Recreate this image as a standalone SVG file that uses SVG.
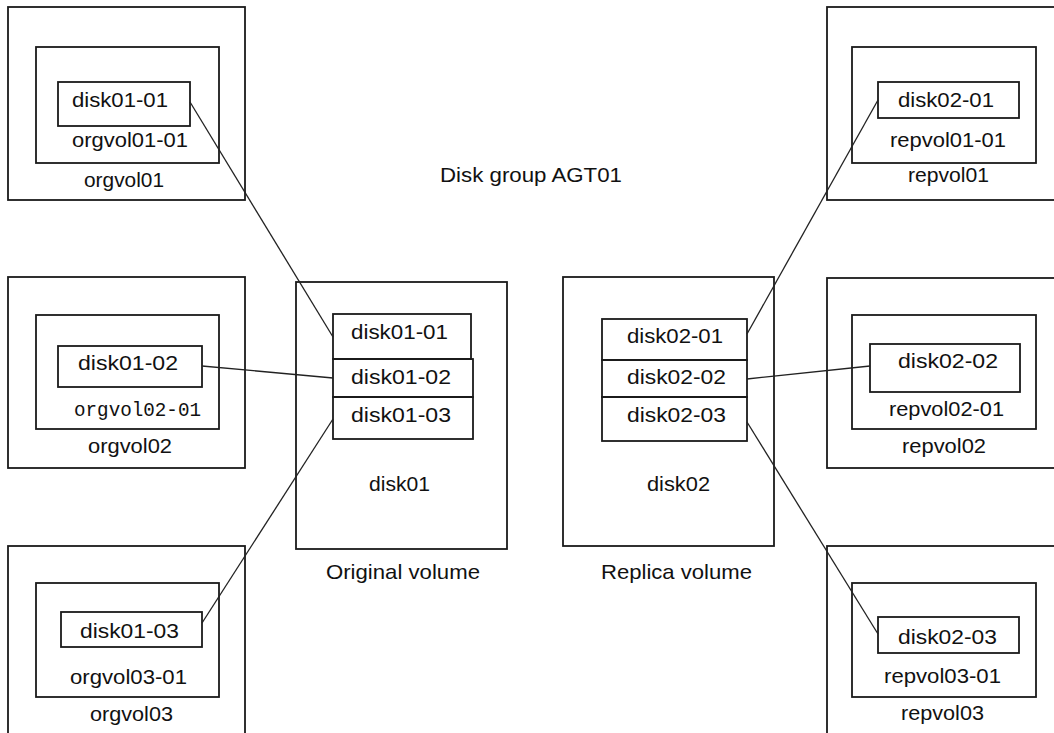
<svg xmlns="http://www.w3.org/2000/svg" width="1054" height="733" viewBox="0 0 1054 733">
<style>
rect{fill:none;stroke:#1a1a1a;stroke-width:1.8}
text{font-family:"Liberation Sans",Arial,sans-serif;font-size:21px;fill:#111}
.m{font-family:"Liberation Mono","Courier New",monospace}
#connectors line{stroke:#222;stroke-width:1.3}
</style>
<rect x="0" y="0" width="1054" height="733" style="fill:#fff;stroke:none"/>
<g id="orgvol01">
<rect x="8" y="7" width="237" height="193"/>
<rect x="36" y="47" width="183" height="116"/>
<rect x="58" y="82" width="132" height="44"/>
<text x="72" y="107" textLength="96" lengthAdjust="spacingAndGlyphs">disk01-01</text>
<text x="72" y="147" textLength="116" lengthAdjust="spacingAndGlyphs">orgvol01-01</text>
<text x="84" y="187" textLength="80" lengthAdjust="spacingAndGlyphs">orgvol01</text>
</g>
<g id="orgvol02">
<rect x="8" y="277" width="237" height="191"/>
<rect x="36" y="315" width="183" height="114"/>
<rect x="58" y="346" width="144" height="41"/>
<text x="78" y="370" textLength="100" lengthAdjust="spacingAndGlyphs">disk01-02</text>
<text class="m" x="74" y="416" textLength="127" lengthAdjust="spacingAndGlyphs">orgvol02-01</text>
<text x="88" y="453" textLength="84" lengthAdjust="spacingAndGlyphs">orgvol02</text>
</g>
<g id="orgvol03">
<rect x="8" y="546" width="237" height="200"/>
<rect x="36" y="583" width="183" height="114"/>
<rect x="61" y="612" width="141" height="35"/>
<text x="80" y="638" textLength="99" lengthAdjust="spacingAndGlyphs">disk01-03</text>
<text x="70" y="684" textLength="117" lengthAdjust="spacingAndGlyphs">orgvol03-01</text>
<text x="90" y="721" textLength="83" lengthAdjust="spacingAndGlyphs">orgvol03</text>
</g>
<g id="disk01">
<rect x="296" y="282" width="211" height="267"/>
<rect x="333" y="314" width="138" height="45"/>
<rect x="333" y="359" width="140" height="38"/>
<rect x="333" y="397" width="140" height="42"/>
<text x="351" y="339" textLength="97" lengthAdjust="spacingAndGlyphs">disk01-01</text>
<text x="351" y="384" textLength="100" lengthAdjust="spacingAndGlyphs">disk01-02</text>
<text x="351" y="422" textLength="100" lengthAdjust="spacingAndGlyphs">disk01-03</text>
<text x="369" y="491" textLength="61" lengthAdjust="spacingAndGlyphs">disk01</text>
<text x="326" y="579" textLength="154" lengthAdjust="spacingAndGlyphs">Original volume</text>
</g>
<g id="disk02">
<rect x="563" y="277" width="211" height="269"/>
<rect x="602" y="319" width="145" height="41"/>
<rect x="602" y="360" width="145" height="37"/>
<rect x="602" y="397" width="145" height="44"/>
<text x="627" y="343" textLength="96" lengthAdjust="spacingAndGlyphs">disk02-01</text>
<text x="627" y="384" textLength="99" lengthAdjust="spacingAndGlyphs">disk02-02</text>
<text x="627" y="422" textLength="99" lengthAdjust="spacingAndGlyphs">disk02-03</text>
<text x="647" y="491" textLength="63" lengthAdjust="spacingAndGlyphs">disk02</text>
<text x="601" y="579" textLength="151" lengthAdjust="spacingAndGlyphs">Replica volume</text>
</g>
<g id="repvol01">
<rect x="827" y="7" width="240" height="193"/>
<rect x="852" y="47" width="184" height="116"/>
<rect x="878" y="82" width="141" height="36"/>
<text x="898" y="107" textLength="96" lengthAdjust="spacingAndGlyphs">disk02-01</text>
<text x="890" y="147" textLength="116" lengthAdjust="spacingAndGlyphs">repvol01-01</text>
<text x="908" y="182" textLength="81" lengthAdjust="spacingAndGlyphs">repvol01</text>
</g>
<g id="repvol02">
<rect x="827" y="278" width="240" height="190"/>
<rect x="852" y="315" width="184" height="114"/>
<rect x="870" y="344" width="150" height="48"/>
<text x="898" y="368" textLength="100" lengthAdjust="spacingAndGlyphs">disk02-02</text>
<text x="889" y="416" textLength="115" lengthAdjust="spacingAndGlyphs">repvol02-01</text>
<text x="902" y="453" textLength="84" lengthAdjust="spacingAndGlyphs">repvol02</text>
</g>
<g id="repvol03">
<rect x="827" y="546" width="240" height="200"/>
<rect x="852" y="583" width="184" height="114"/>
<rect x="878" y="617" width="141" height="36"/>
<text x="898" y="644" textLength="99" lengthAdjust="spacingAndGlyphs">disk02-03</text>
<text x="884" y="683" textLength="117" lengthAdjust="spacingAndGlyphs">repvol03-01</text>
<text x="901" y="720" textLength="83" lengthAdjust="spacingAndGlyphs">repvol03</text>
</g>
<g id="title">
<text x="440" y="182" textLength="182" lengthAdjust="spacingAndGlyphs">Disk group AGT01</text>
</g>
<g id="connectors">
<line x1="190" y1="102" x2="333" y2="337"/>
<line x1="202" y1="366" x2="333" y2="378"/>
<line x1="202" y1="623" x2="333" y2="419"/>
<line x1="747" y1="334" x2="878" y2="100"/>
<line x1="747" y1="379" x2="870" y2="366"/>
<line x1="747" y1="422" x2="878" y2="634"/>
</g>
</svg>
